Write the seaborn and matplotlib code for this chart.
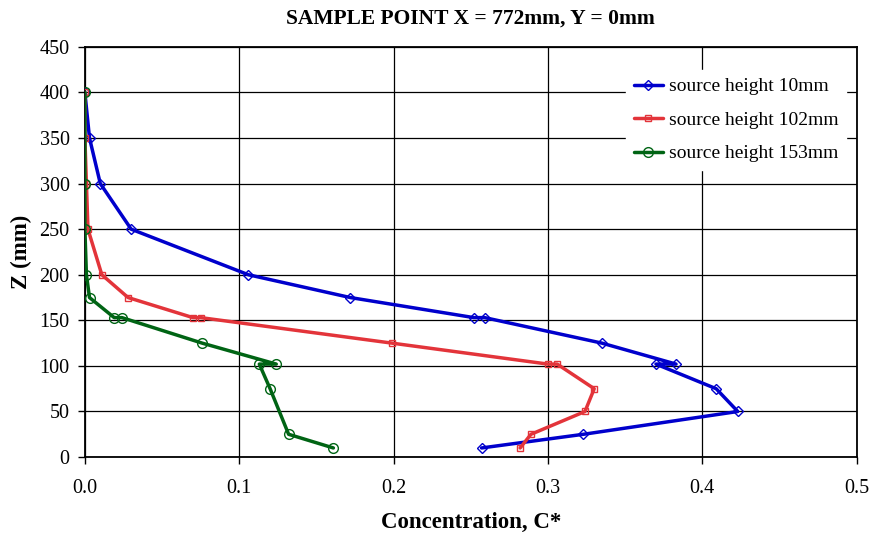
import pandas as pd
import matplotlib
matplotlib.use('Agg')
import matplotlib.pyplot as plt
import seaborn as sns

# Datos (concentracion C* vs altura Z)
z_10 = [10, 25, 50, 75, 102, 102, 125, 153, 153, 175, 200, 250, 300, 350, 400]
c_10 = [0.257, 0.323, 0.423, 0.409, 0.370, 0.383, 0.335, 0.259, 0.252, 0.172, 0.106, 0.030, 0.010, 0.003, 0.0]

z_102 = [10, 25, 50, 75, 102, 102, 125, 153, 153, 175, 200, 250, 300, 350, 400]
c_102 = [0.282, 0.289, 0.324, 0.330, 0.306, 0.300, 0.199, 0.075, 0.070, 0.028, 0.011, 0.002, 0.001, 0.0, 0.0]

z_153 = [10, 25, 75, 102, 102, 125, 153, 153, 175, 200, 250, 300, 400]
c_153 = [0.161, 0.132, 0.120, 0.113, 0.124, 0.076, 0.024, 0.019, 0.003, 0.001, 0.0, 0.0, 0.0]

labels = ['source height 10mm', 'source height 102mm', 'source height 153mm']
colores = ['#0000cc', '#e3343a', '#006414']
marcadores = ['D', 's', 'o']
tam = [5, 5, 7]

sns.set_style('white')
plt.rcParams['font.family'] = ['Liberation Serif', 'DejaVu Serif']
plt.rcParams['text.color'] = 'black'
plt.rcParams['axes.labelcolor'] = 'black'
plt.rcParams['xtick.color'] = 'black'
plt.rcParams['ytick.color'] = 'black'

fig = plt.figure(figsize=(8.75, 5.39), dpi=100)
ax = fig.add_axes([0.097, 0.152, 0.882, 0.761])

series = [(c_10, z_10), (c_102, z_102), (c_153, z_153)]
for (c, z), lab, col, m, s in zip(series, labels, colores, marcadores, tam):
    df = pd.DataFrame({'C': c, 'Z': z})
    sns.lineplot(data=df, x='C', y='Z', sort=False, estimator=None, ax=ax,
                 color=col, linewidth=2.5, marker=m, markersize=s,
                 markerfacecolor='none', markeredgecolor=col, markeredgewidth=1.0,
                 label=lab, zorder=3)

ax.set_xlim(0, 0.5)
ax.set_ylim(0, 450)
ax.set_xticks([0, 0.1, 0.2, 0.3, 0.4, 0.5])
ax.set_xticklabels(['0.0', '0.1', '0.2', '0.3', '0.4', '0.5'])
ax.set_yticks(range(0, 451, 50))
ax.grid(True, color='black', linewidth=0.9)
ax.set_axisbelow(True)
for sp in ax.spines.values():
    sp.set_color('black')
    sp.set_linewidth(1.3)
ax.tick_params(axis='both', direction='out', length=5, width=1, color='black',
               labelsize=14.5, bottom=True, left=True)
ax.tick_params(axis='x', pad=11)
ax.tick_params(axis='y', pad=6)

ax.set_xlabel('Concentration, C*', fontsize=16.5, fontweight='bold', labelpad=10)
ax.set_ylabel('Z (mm)', fontsize=16.5, fontweight='bold', labelpad=5)
ax.set_title('SAMPLE POINT X = 772mm, Y = 0mm', fontsize=15.5, fontweight='bold', pad=17)

leg = ax.legend(loc='upper right', bbox_to_anchor=(0.994, 0.958), fontsize=14,
                frameon=True, fancybox=False, framealpha=1, edgecolor='white',
                handlelength=1.5, handletextpad=0.3, labelspacing=0.82,
                borderaxespad=0.3)
leg.set_zorder(2.4)  # debajo del marco, encima de la grilla

plt.savefig('out.png', dpi=100)
